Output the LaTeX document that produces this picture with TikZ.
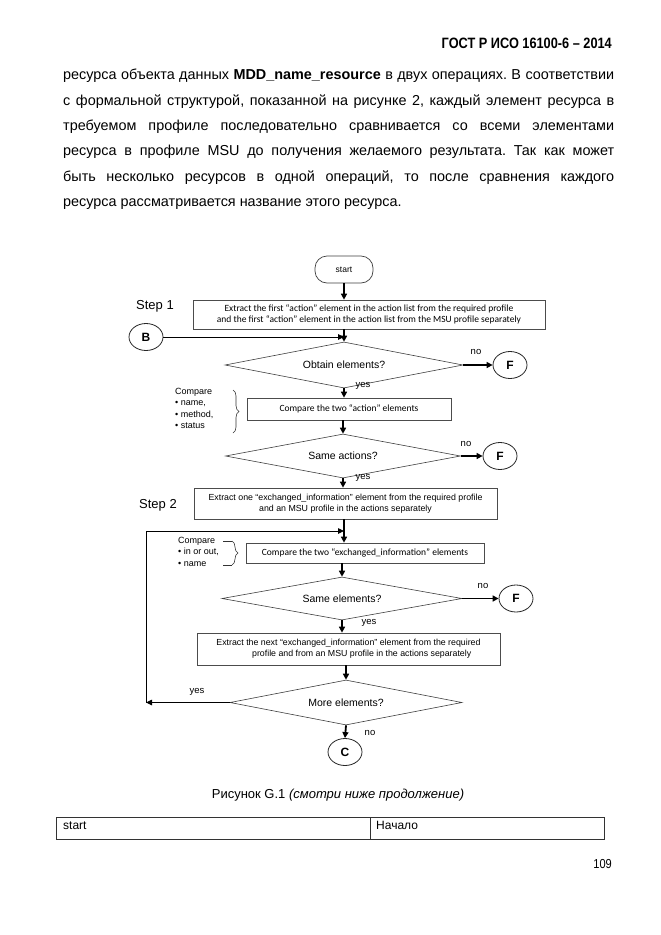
\documentclass[tikz,border=0pt]{standalone}
\usepackage{fontspec}
\setmainfont{Liberation Sans}
\newfontfamily\boxfont{Carlito}
\newfontfamily\narrowfont[FakeStretch=0.85]{Liberation Sans}
\usetikzlibrary{arrows.meta,shapes.geometric,decorations.pathreplacing}

\tikzset{
  actionbox/.style={draw=black!70, line width=0.7pt, inner sep=0pt, align=center,
    font=\boxfont\fontsize{9.5}{11}\selectfont},
  infobox/.style={actionbox, font=\fontsize{8.8}{11}\selectfont},
  decision/.style={diamond, aspect=5, draw=black!75, line width=0.6pt, inner sep=0pt,
    font=\fontsize{10.5}{11}\selectfont},
  connector/.style={ellipse, draw=black!85, line width=0.8pt, minimum width=34pt,
    minimum height=27pt, inner sep=0pt, font=\bfseries\fontsize{12}{12}\selectfont},
  flow/.style={line width=1.8pt, -{Triangle[length=6pt,width=6pt]}},
  thinflow/.style={line width=0.9pt, -{Triangle[length=6pt,width=5.5pt]}},
  answer/.style={inner sep=0pt, font=\fontsize{9.5}{10}\selectfont},
  steplabel/.style={inner sep=0pt, font=\fontsize{13}{13}\selectfont},
  note/.style={inner sep=0pt, align=left, font=\fontsize{9}{11.5}\selectfont},
  bodyline/.style={inner sep=0pt, anchor=mid west, font=\fontsize{14.4}{14.4}\selectfont},
}

\begin{document}
\frenchspacing
\begin{tikzpicture}[x=1pt,y=-1pt]
  \useasboundingbox[fill=white] (0,0) rectangle (661,935);
%--- Header and text
  \node[inner sep=0pt, anchor=mid east, font=\narrowfont\bfseries\fontsize{15}{15}\selectfont]
    (header) at (612,46) {ГОСТ Р ИСО 16100-6 – 2014};
  \node[bodyline] (line1) at (63,77) {\makebox[551pt][s]{ресурса объекта данных \textbf{MDD\_name\_resource} в двух операциях. В соответствии}};
  \node[bodyline] (line2) at (63,102.4) {\makebox[551pt][s]{с формальной структурой, показанной на рисунке 2, каждый элемент ресурса в}};
  \node[bodyline] (line3) at (63,127.8) {\makebox[551pt][s]{требуемом профиле последовательно сравнивается со всеми элементами}};
  \node[bodyline] (line4) at (63,153.2) {\makebox[551pt][s]{ресурса в профиле MSU до получения желаемого результата. Так как может}};
  \node[bodyline] (line5) at (63,178.6) {\makebox[551pt][s]{быть несколько ресурсов в одной операций, то после сравнения каждого}};
  \node[bodyline] (line6) at (63,204) {ресурса рассматривается название этого ресурса.};
%--- Step 1
  \node[draw=black!75, line width=0.7pt, rounded corners=12pt, minimum width=58pt,
    minimum height=27pt, inner sep=0pt, font=\fontsize{8.5}{9}\selectfont]
    (start) at (344,269.5) {start};
  \node[steplabel] (step1) at (155,306) {Step 1};
  \node[actionbox, minimum width=352pt, minimum height=29pt] (extract1) at (369,314.5)
    {Extract the first “action” element in the action list from the required profile\\
     and the first “action” element in the action list from the MSU profile separately};
  \node[connector] (B) at (146,337) {B};
  \coordinate (join1) at (344,337);
  \node[decision, minimum width=238pt, minimum height=46pt] (obtain) at (344,365) {Obtain elements?};
  \node[connector] (F1) at (510,365) {F};
  \node[answer] (no1) at (476,352) {no};
  \node[answer] (yes1) at (363,386) {yes};
  \node[actionbox, minimum width=204pt, minimum height=22pt] (compare1) at (349,409)
    {Compare the two “action” elements};
  \node[note, anchor=north west] (list1) at (175,388)
    {Compare\\ • name,\\ • method,\\ • status};
  \draw[black!80, line width=0.6pt, decorate, decoration={brace, amplitude=6pt}]
    (233,390) -- (233,433);
  \node[decision, minimum width=235pt, minimum height=44pt] (sameact) at (343,456) {Same actions?};
  \node[connector] (F2) at (500,456) {F};
  \node[answer] (no2) at (466,444) {no};
  \node[answer] (yes2) at (363,478) {yes};
%--- Step 2
  \node[steplabel] (step2) at (158,505) {Step 2};
  \node[infobox, minimum width=303pt, minimum height=31pt] (extract2) at (345.5,503.5)
    {Extract one “exchanged\_information” element from the required profile\\
     and an MSU profile in the actions separately};
  \coordinate (join2) at (344,531);
  \coordinate (looptop) at (146,531);
  \node[actionbox, minimum width=238pt, minimum height=20pt] (compare2) at (365,553)
    {Compare the two “exchanged\_information” elements};
  \node[note, anchor=north west] (list2) at (178,537)
    {Compare\\ • in or out,\\ • name};
  \draw[black!80, line width=0.6pt, decorate, decoration={brace, amplitude=6pt}]
    (232,541) -- (232,565);
  \draw[black!80, line width=0.6pt] (223,541) -- (232,541) (223,565) -- (232,565);
  \node[decision, minimum width=240pt, minimum height=43pt] (sameelem) at (342,598.5) {Same elements?};
  \node[connector] (F3) at (516,598.5) {F};
  \node[answer] (no3) at (483,586) {no};
  \node[answer] (yes3) at (369,623) {yes};
  \node[infobox, minimum width=303pt, minimum height=32pt] (extract3) at (348.5,649)
    {Extract the next “exchanged\_information” element from the required\\
     \hspace*{3em}profile and from an MSU profile in the actions separately};
  \node[decision, minimum width=232pt, minimum height=45pt] (more) at (346,702.5) {More elements?};
  \coordinate (loopbot) at (146,702.5);
  \node[answer] (yes4) at (197,692) {yes};
  \node[answer] (no4) at (370,733) {no};
  \node[connector] (C) at (345,752) {C};
%--- Connectors
  \draw[flow] (start.south) -- (start.south |- extract1.north);
  \draw[flow] (obtain.north |- extract1.south) -- (obtain.north);
  \draw[thinflow] (B.east) -- (join1);
  \draw[flow] (obtain.east) -- (F1.west);
  \draw[flow] (obtain.south) -- (obtain.south |- compare1.north);
  \draw[flow] (sameact.north |- compare1.south) -- (sameact.north);
  \draw[flow] (sameact.east) -- (F2.west);
  \draw[flow] (sameact.south) -- (sameact.south |- extract2.north);
  \draw[flow] (join2 |- extract2.south) -- (join2 |- compare2.north);
  \draw[thinflow] (more.west) -- (loopbot);
  \draw[thinflow] (loopbot) -- (looptop) -- (join2);
  \draw[flow] (sameelem.north |- compare2.south) -- (sameelem.north);
  \draw[flow] (sameelem.east) -- (F3.west);
  \draw[flow] (sameelem.south) -- (sameelem.south |- extract3.north);
  \draw[flow] (more.north |- extract3.south) -- (more.north);
  \draw[flow] (more.south) -- (C.north);
%--- Caption and table
  \node[inner sep=0pt, font=\fontsize{13}{13}\selectfont] (caption) at (338,795)
    {Рисунок G.1 \textit{(смотри ниже продолжение)}};
  \node[draw=black!80, line width=0.6pt, minimum width=314pt, minimum height=22pt,
    inner sep=0pt] (cellen) at (213,828) {};
  \node[draw=black!80, line width=0.6pt, minimum width=234pt, minimum height=22pt,
    inner sep=0pt] (cellru) at (487,828) {};
  \node[inner sep=0pt, anchor=mid west, font=\fontsize{12}{12}\selectfont] (starttext) at (63,827) {start};
  \node[inner sep=0pt, anchor=mid west, font=\fontsize{12}{12}\selectfont] (rutext) at (376,827) {Начало};
  \node[inner sep=0pt, anchor=mid east, font=\narrowfont\fontsize{13}{13}\selectfont] (pagenum) at (612,866) {109};
\end{tikzpicture}
\end{document}
